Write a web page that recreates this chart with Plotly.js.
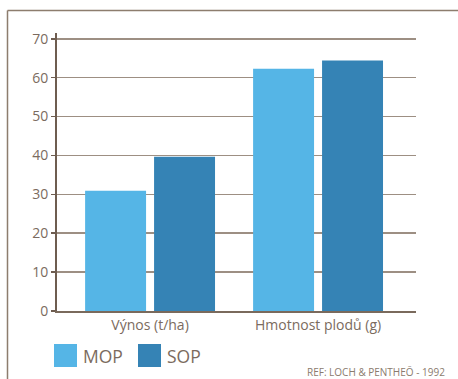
<!DOCTYPE html>
<html>
<head>
<meta charset="utf-8">
<script src="https://cdn.plot.ly/plotly-3.0.1.min.js"></script>
<style>
html,body{margin:0;padding:0;background:#fff;}
#chart{width:458px;height:379px;}
</style>
</head>
<body>
<div id="chart"></div>
<script>
const categories = ["Výnos (t/ha)", "Hmotnost plodů (g)"];
const seriesNames = ["MOP", "SOP"];
const mopValues = [30.9, 62.3];
const sopValues = [39.7, 64.4];
const yTicks = [0, 10, 20, 30, 40, 50, 60, 70];
const refText = "REF: LOCH & PENTHEŌ - 1992";
const colors = ["#55b5e6", "#3583b5"];

const FONT = "Open Sans, Lato, sans-serif";
const textColor = "#7b6b5e";

const traces = [
  {type: "bar", name: seriesNames[0], x: categories, y: mopValues,
   marker: {color: colors[0]}, hoverinfo: "none"},
  {type: "bar", name: seriesNames[1], x: categories, y: sopValues,
   marker: {color: colors[1]}, hoverinfo: "none"}
];

const legendShapes = [];
const legendAnn = [];
const legendX = [54, 138];
seriesNames.forEach((n, i) => {
  legendShapes.push({type: "rect", xref: "paper", yref: "paper",
    x0: (legendX[i] - 57) / 359, x1: (legendX[i] + 23 - 57) / 359,
    y0: (311 - 367) / 278, y1: (311 - 344) / 278,
    fillcolor: colors[i], line: {width: 0}});
  legendAnn.push({xref: "paper", yref: "paper",
    x: (legendX[i] + 27 - 57) / 359, y: (311 - 355.5) / 278,
    xanchor: "left", yanchor: "middle", showarrow: false,
    text: n, font: {family: FONT, size: 17.5, color: textColor}});
});

const layout = {
  width: 458, height: 379,
  margin: {l: 57, r: 42, t: 33, b: 68},
  paper_bgcolor: "#fff", plot_bgcolor: "#fff",
  showlegend: false,
  barmode: "group", bargap: 0.179, bargroupgap: 0.116,
  font: {family: FONT, color: textColor},
  xaxis: {
    range: [-0.554, 1.583], showgrid: false, zeroline: false,
    showline: true, linecolor: "#7a6a5c", linewidth: 2,
    ticks: "", tickfont: {family: FONT, size: 14, color: textColor},
    fixedrange: true
  },
  yaxis: {
    range: [0, 71.5], tickvals: yTicks, ticktext: yTicks.map(String),
    showgrid: true, gridcolor: "#9d8f83", gridwidth: 1.5,
    zeroline: false, showline: true, linecolor: "#6e5d50", linewidth: 2,
    ticks: "outside", ticklen: 4, tickcolor: "#6e5d50", tickwidth: 1.5,
    tickfont: {family: FONT, size: 14, color: textColor},
    fixedrange: true
  },
  shapes: [
    {type: "line", xref: "paper", yref: "paper",
     x0: (7.5 - 57) / 359, x1: (460 - 57) / 359,
     y0: (311 - 10.5) / 278, y1: (311 - 10.5) / 278,
     line: {color: "#8d7d6e", width: 1.5}},
    {type: "line", xref: "paper", yref: "paper",
     x0: (7.5 - 57) / 359, x1: (7.5 - 57) / 359,
     y0: (311 - 10.5) / 278, y1: (311 - 381) / 278,
     line: {color: "#8d7d6e", width: 1.5}}
  ].concat(legendShapes),
  annotations: legendAnn.concat([
    {xref: "paper", yref: "paper", x: (447 - 57) / 359, y: (311 - 371.5) / 278,
     xanchor: "right", yanchor: "middle", showarrow: false,
     text: refText, font: {family: FONT, size: 10, color: "#8a7b6e"}}
  ])
};

Plotly.newPlot("chart", traces, layout, {displayModeBar: false, staticPlot: true});
</script>
</body>
</html>
